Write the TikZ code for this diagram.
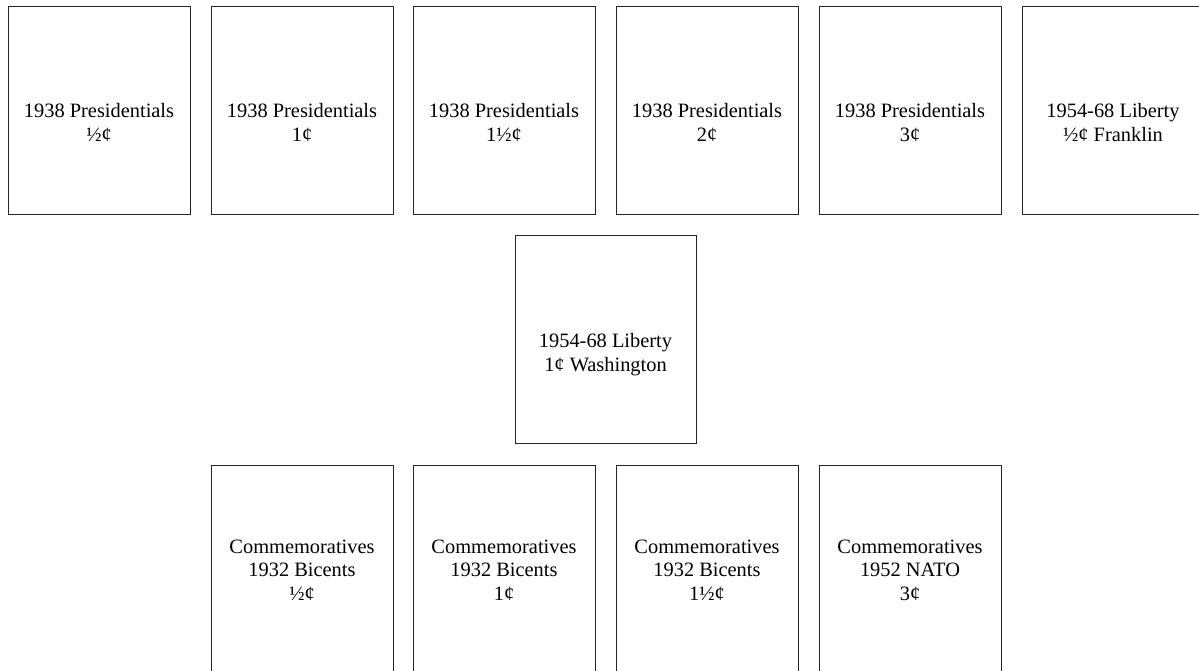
\documentclass[tikz,border=0pt]{standalone}
\usepackage{fontspec}
\setmainfont{Liberation Serif}
\begin{document}
\begin{tikzpicture}[x=1pt,y=-1pt,
  box/.style={draw=black!85, line width=0.9pt, minimum width=182pt, minimum height=208pt, inner sep=0pt, anchor=north west},
  lbl/.style={font=\fontsize{20.4}{23.5}\selectfont, align=center, anchor=base, inner sep=0pt}]
\useasboundingbox (0,0) rectangle (1199,670);
% top row
\node[box] (b1) at (8,6) {};
\node[box] (b2) at (211,6) {};
\node[box] (b3) at (413,6) {};
\node[box] (b4) at (616,6) {};
\node[box] (b5) at (819,6) {};
\node[box] (b6) at (1022,6) {};
% middle
\node[box, minimum width=181pt] (b7) at (515,235) {};
% bottom row
\node[box] (b8) at (211,465) {};
\node[box] (b9) at (413,465) {};
\node[box] (b10) at (616,465) {};
\node[box] (b11) at (819,465) {};
% labels (anchor = baseline of last line)
\node[lbl] (t1) at (99,141) {1938 Presidentials\\½¢};
\node[lbl] (t2) at (302,141) {1938 Presidentials\\1¢};
\node[lbl] (t3) at (504,141) {1938 Presidentials\\1½¢};
\node[lbl] (t4) at (707,141) {1938 Presidentials\\2¢};
\node[lbl] (t5) at (910,141) {1938 Presidentials\\3¢};
\node[lbl] (t6) at (1113,141) {1954-68 Liberty\\½¢ Franklin};
\node[lbl] (t7) at (605.5,371) {1954-68 Liberty\\1¢ Washington};
\node[lbl] (t8) at (302,600) {Commemoratives\\1932 Bicents\\½¢};
\node[lbl] (t9) at (504,600) {Commemoratives\\1932 Bicents\\1¢};
\node[lbl] (t10) at (707,600) {Commemoratives\\1932 Bicents\\1½¢};
\node[lbl] (t11) at (910,600) {Commemoratives\\1952 NATO\\3¢};
\end{tikzpicture}
\end{document}
